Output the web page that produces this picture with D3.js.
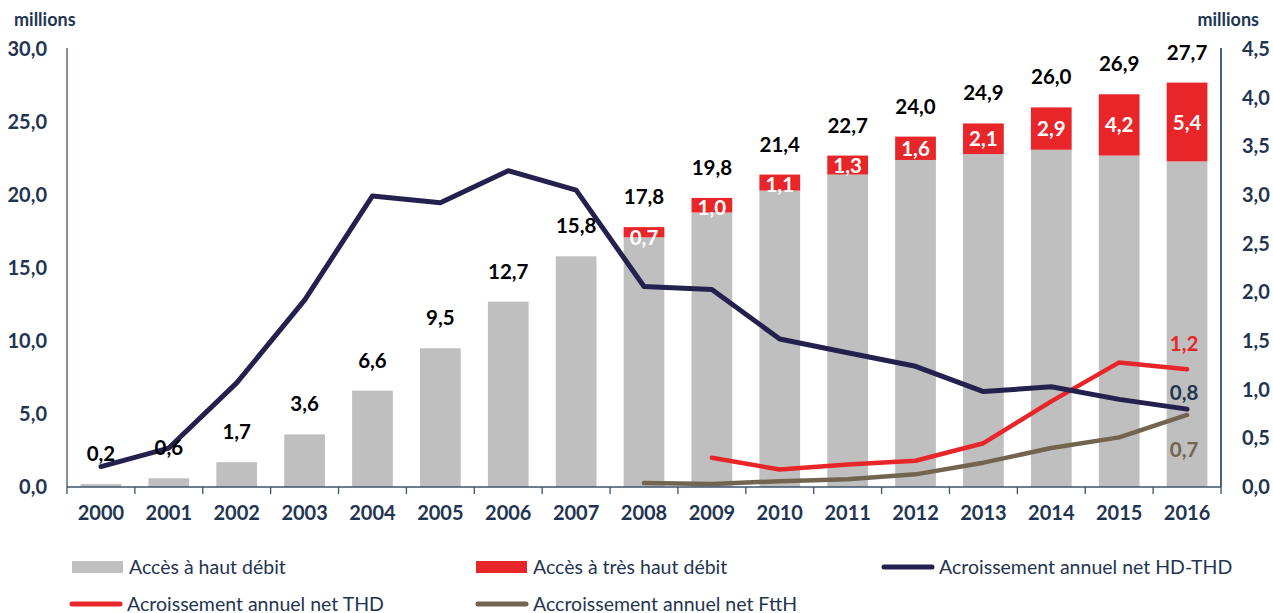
<!DOCTYPE html>
<html>
<head>
<meta charset="utf-8">
<script src="https://cdn.jsdelivr.net/npm/d3@7"></script>
<style>
  html, body { margin: 0; padding: 0; background: #fff; }
  svg { display: block; }
</style>
</head>
<body>
<svg id="chart" width="1273" height="613"></svg>
<script>
const years = ["2000","2001","2002","2003","2004","2005","2006","2007","2008","2009","2010","2011","2012","2013","2014","2015","2016"];
const hautDebit = [0.2,0.6,1.7,3.6,6.6,9.5,12.7,15.8,17.1,18.8,20.3,21.4,22.4,22.8,23.1,22.7,22.3];
const tresHautDebit = [0,0,0,0,0,0,0,0,0.7,1.0,1.1,1.3,1.6,2.1,2.9,4.2,5.4];
const totals = [0.2,0.6,1.7,3.6,6.6,9.5,12.7,15.8,17.8,19.8,21.4,22.7,24.0,24.9,26.0,26.9,27.7];
const accroissementHdThd = [0.21,0.40,1.07,1.92,2.99,2.92,3.25,3.05,2.06,2.03,1.52,1.38,1.24,0.98,1.03,0.90,0.80];
const accroissementThd = [null,null,null,null,null,null,null,null,null,0.30,0.18,0.23,0.27,0.45,0.88,1.28,1.21];
const accroissementFtth = [null,null,null,null,null,null,null,null,0.04,0.03,0.06,0.08,0.13,0.25,0.40,0.51,0.74];
const leftTicks = [0,5,10,15,20,25,30];
const rightTicks = [0,0.5,1,1.5,2,2.5,3,3.5,4,4.5];
const legendLabels = ["Accès à haut débit","Accès à très haut débit","Acroissement annuel net HD-THD","Acroissement annuel net THD","Accroissement annuel net FttH"];

const C = {
  grey: "#BFBFBF", red: "#E8262A", navy: "#25214F", brown: "#72644F",
  text: "#1F3551", axis: "#3E536D"
};
const FONT = "Lato, 'Open Sans', sans-serif";
const fmt = v => d3.format(".1f")(v).replace(".", ",");

const svg = d3.select("#chart");
const pLeft = 67, pRight = 1221, pTop = 49, pBottom = 487;

const x = d3.scaleBand().domain(years).range([pLeft, pRight]).paddingInner(0.4).paddingOuter(0.2);
const yL = d3.scaleLinear().domain([0, 30]).range([pBottom, pTop]);
const yR = d3.scaleLinear().domain([0, 4.5]).range([pBottom, pTop]);
const cx = d => x(d) + x.bandwidth() / 2;
const gapHalf = (x.step() - x.bandwidth()) / 2;

// Bars - haut débit
svg.append("g").selectAll("rect").data(years).join("rect")
  .attr("x", d => x(d)).attr("width", x.bandwidth())
  .attr("y", (d, i) => yL(hautDebit[i]))
  .attr("height", (d, i) => yL(0) - yL(hautDebit[i]))
  .attr("fill", C.grey);

// Bars - très haut débit
const thdYears = years.filter((d, i) => tresHautDebit[i] > 0);
svg.append("g").selectAll("rect").data(thdYears).join("rect")
  .attr("x", d => x(d)).attr("width", x.bandwidth())
  .attr("y", d => { const i = years.indexOf(d); return yL(hautDebit[i] + tresHautDebit[i]); })
  .attr("height", d => { const i = years.indexOf(d); return yL(hautDebit[i]) - yL(hautDebit[i] + tresHautDebit[i]); })
  .attr("fill", C.red);

// Axes
const axG = svg.append("g");
axG.append("line").attr("x1", pLeft).attr("x2", pLeft).attr("y1", yL(30) - 1).attr("y2", pBottom).attr("stroke", C.axis).attr("stroke-width", 1.3);
axG.append("line").attr("x1", pRight).attr("x2", pRight).attr("y1", yL(30) - 1).attr("y2", pBottom).attr("stroke", "#1F3864").attr("stroke-width", 1.6);
axG.append("line").attr("x1", pLeft).attr("x2", pRight).attr("y1", pBottom).attr("y2", pBottom).attr("stroke", C.axis).attr("stroke-width", 1.3);
const bounds = years.map(d => x(d) - gapHalf).concat([pRight]);
axG.selectAll("line.tk").data(bounds).join("line").attr("class", "tk")
  .attr("x1", d => d).attr("x2", d => d).attr("y1", pBottom).attr("y2", pBottom + 7)
  .attr("stroke", C.axis).attr("stroke-width", 1.3);

// x tick labels via axis
const xAxis = svg.append("g").attr("transform", `translate(0,${pBottom})`)
  .call(d3.axisBottom(x).tickSize(0).tickPadding(19));
xAxis.select(".domain").remove();
xAxis.selectAll("text").attr("font-family", FONT).attr("font-weight", "bold").attr("font-size", 20).attr("fill", C.text);

// left axis labels
const lAxis = svg.append("g").attr("transform", `translate(${pLeft},0)`)
  .call(d3.axisLeft(yL).tickValues(leftTicks).tickSize(0).tickPadding(20).tickFormat(fmt));
lAxis.select(".domain").remove();
lAxis.selectAll("text").attr("font-family", FONT).attr("font-weight", "bold").attr("font-size", 20).attr("fill", C.text);

// right axis labels
const rAxis = svg.append("g").attr("transform", `translate(${pRight},0)`)
  .call(d3.axisRight(yR).tickValues(rightTicks).tickSize(0).tickPadding(21).tickFormat(fmt));
rAxis.select(".domain").remove();
rAxis.selectAll("text").attr("font-family", FONT).attr("font-weight", "bold").attr("font-size", 20).attr("fill", C.text);

// "millions" titles
svg.append("text").attr("x", 14).attr("y", 26).text("millions")
  .attr("font-family", FONT).attr("font-weight", "bold").attr("font-size", 18).attr("fill", C.text);
svg.append("text").attr("x", 1259).attr("y", 26).attr("text-anchor", "end").text("millions")
  .attr("font-family", FONT).attr("font-weight", "bold").attr("font-size", 18).attr("fill", C.text);

// Lines
const mkLine = arr => d3.line()
  .defined((d, i) => arr[i] != null)
  .x(d => cx(d)).y((d, i) => yR(arr[i]));
function drawLine(arr, color, w) {
  svg.append("path").datum(years).attr("d", mkLine(arr))
    .attr("fill", "none").attr("stroke", color).attr("stroke-width", w)
    .attr("stroke-linejoin", "round").attr("stroke-linecap", "round");
}
drawLine(accroissementThd, C.red, 4.5);
drawLine(accroissementFtth, C.brown, 4.5);
drawLine(accroissementHdThd, C.navy, 5);

// Total labels
svg.append("g").selectAll("text").data(years).join("text")
  .attr("x", d => cx(d))
  .attr("y", (d, i) => yL(totals[i]) - 23)
  .attr("text-anchor", "middle")
  .attr("font-family", FONT).attr("font-weight", "bold").attr("font-size", 20.5).attr("fill", "#000")
  .text((d, i) => fmt(totals[i]));

// THD labels (white, inside red)
svg.append("g").selectAll("text").data(thdYears).join("text")
  .attr("x", d => cx(d))
  .attr("y", d => {
    const i = years.indexOf(d);
    const t = yL(hautDebit[i] + tresHautDebit[i]), b = yL(hautDebit[i]);
    return Math.max((t + b) / 2, t + 10) + 7.5;
  })
  .attr("text-anchor", "middle")
  .attr("font-family", FONT).attr("font-weight", "bold").attr("font-size", 20.5).attr("fill", "#fff")
  .text(d => fmt(tresHautDebit[years.indexOf(d)]));

// End-of-line labels
const last = years.length - 1;
const endLabels = [
  { v: accroissementThd[last], dy: -18, color: C.red },
  { v: accroissementHdThd[last], dy: -9, color: C.text },
  { v: accroissementFtth[last], dy: 42, color: C.brown }
];
svg.append("g").selectAll("text").data(endLabels).join("text")
  .attr("x", cx(years[last]) - 3)
  .attr("y", d => yR(d.v) + d.dy)
  .attr("text-anchor", "middle")
  .attr("font-family", FONT).attr("font-weight", "bold").attr("font-size", 20.5)
  .attr("fill", d => d.color)
  .text(d => fmt(d.v));

// Legend
const legend = svg.append("g").attr("font-family", FONT).attr("font-size", 19.5).attr("fill", C.text);
const items = [
  { type: "rect", color: C.grey, x: 72, y: 567, label: legendLabels[0] },
  { type: "rect", color: C.red, x: 476, y: 567, label: legendLabels[1] },
  { type: "line", color: C.navy, x: 882, y: 567, label: legendLabels[2] },
  { type: "line", color: C.red, x: 70, y: 604, label: legendLabels[3] },
  { type: "line", color: C.brown, x: 476, y: 604, label: legendLabels[4] }
];
items.forEach(it => {
  if (it.type === "rect") {
    legend.append("rect").attr("x", it.x).attr("y", it.y - 6).attr("width", 51).attr("height", 12).attr("fill", it.color);
  } else {
    legend.append("line").attr("x1", it.x + 2).attr("x2", it.x + 50).attr("y1", it.y).attr("y2", it.y)
      .attr("stroke", it.color).attr("stroke-width", 5).attr("stroke-linecap", "round");
  }
  legend.append("text").attr("x", it.x + 57).attr("y", it.y + 6.5).text(it.label);
});
</script>
</body>
</html>
